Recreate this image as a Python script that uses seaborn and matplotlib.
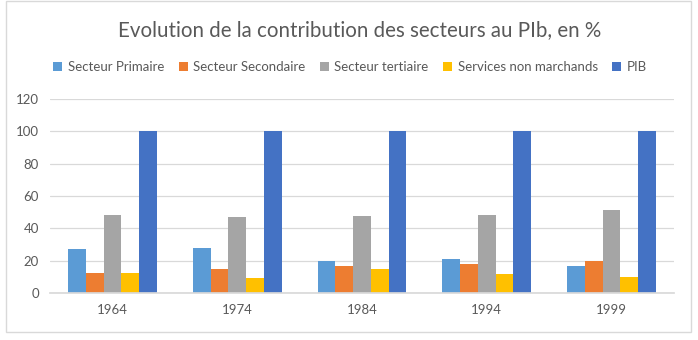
import matplotlib
matplotlib.use("Agg")
import matplotlib.pyplot as plt
import seaborn as sns
import pandas as pd
from matplotlib.patches import Rectangle, Patch

years = ["1964", "1974", "1984", "1994", "1999"]
series = ["Secteur Primaire", "Secteur Secondaire", "Secteur tertiaire",
          "Services non marchands", "PIB"]
primaire = [27, 28, 20, 21, 17]
secondaire = [12.5, 15, 17, 18, 20]
tertiaire = [48, 47, 47.5, 48.5, 51.5]
services = [12.5, 9.5, 15, 12, 10]
pib = [100, 100, 100, 100, 100]
colors = ["#5B9BD5", "#ED7D31", "#A5A5A5", "#FFC000", "#4472C4"]

rows = []
for name, vals in zip(series, [primaire, secondaire, tertiaire, services, pib]):
    for y, v in zip(years, vals):
        rows.append({"Année": y, "Série": name, "Valeur": v})
df = pd.DataFrame(rows)

sns.set_theme(style="white")
plt.rcParams["font.family"] = ["Lato", "DejaVu Sans"]

fig = plt.figure(figsize=(6.98, 3.40), dpi=100)
ax = fig.add_axes([50/698, 1-293/340, 624/698, 194/340])

sns.barplot(data=df, x="Année", y="Valeur", hue="Série", order=years,
            hue_order=series, palette=colors, width=0.71, gap=0,
            saturation=1, errorbar=None, ax=ax, legend=False, linewidth=0)

ax.set_ylim(0, 120)
ax.set_yticks(range(0, 121, 20))
ax.yaxis.grid(True, color="#D9D9D9", linewidth=0.9)
ax.set_axisbelow(True)
for s in ["top", "right", "left"]:
    ax.spines[s].set_visible(False)
ax.spines["bottom"].set_color("#D9D9D9")
ax.tick_params(axis="both", length=0, labelsize=9.5, colors="#595959")
ax.tick_params(axis="y", pad=8)
ax.tick_params(axis="x", pad=8)
ax.set_xlabel("")
ax.set_ylabel("")

fig.text(360/698, 1-30/340, "Evolution de la contribution des secteurs au PIb, en %",
         ha="center", va="center", fontsize=14.8, color="#595959")

handles = [Patch(facecolor=c, edgecolor="none") for c in colors]
fig.legend(handles, series, loc="center", bbox_to_anchor=(350/698, 1-67/340),
           ncol=5, frameon=False, fontsize=9.5, handlelength=0.7, handleheight=0.7,
           handletextpad=0.4, columnspacing=1.1, labelcolor="#595959")

fig.patches.append(Rectangle((6/698, 1-332/340), 685/698, 331/340,
                             transform=fig.transFigure, fill=False,
                             edgecolor="#D9D9D9", linewidth=1))

fig.savefig("out.png", dpi=100, facecolor="white")
